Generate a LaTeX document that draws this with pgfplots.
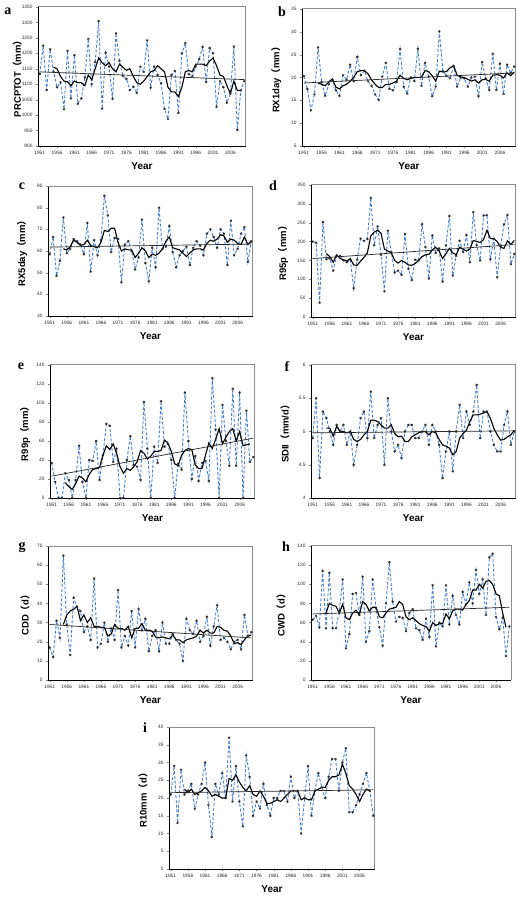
\documentclass[border=0pt]{standalone}
\usepackage{fontspec}
\setmainfont{Liberation Sans}
\newfontfamily\serifbf{Liberation Serif}
\newfontfamily\cjk{Noto Sans CJK SC}
\usepackage{pgfplots}
\usepackage{pgfplotstable}
\pgfplotsset{compat=1.18}
\definecolor{dblue}{RGB}{72,128,200}
\newcommand\lp{{\cjk （}}
\newcommand\rp{{\cjk ）}}

\pgfplotstableread{
year a b c d e f g h i
1951 1133 20.3 58.5 200 37 4.9 17 63 21
1952 1225 17.5 66.5 197 17 5.5 12 67 29
1953 1081 12.8 48.5 38 0 4.3 31 55 13
1954 1213 16.3 55.5 252 0 5.3 22 114 28
1955 1140 26.6 75.5 153 26 5.2 65 54 21
1956 1090 19.0 59 155 19 5.0 29 112 22
1957 1106 16.0 61 123 0 4.8 13 54 24
1958 1019 18.5 65.5 162 19 5.1 43 54 17
1959 1208 19.5 64.5 162 55 5.0 38 72 21
1960 1054 17.2 63 150 17 5.1 36 105 24
1961 1194 16.0 58.5 145 0 4.8 25 33 30
1962 1037 20.5 73 152 40 5.0 28 48 18
1963 1054 19.5 50.5 76 39 4.5 21 90 9
1964 1122 22.8 65 152 60 4.8 53 91 24
1965 1247 19.2 58 208 19 5.2 17 68 21
1966 1100 24.5 65 202 45 5.3 19 108 27
1967 1172 20.5 85.5 207 78 4.9 30 40 20
1968 1304 21.5 76.5 316 76 5.6 20 51 37
1969 1021 19.2 59.5 190 38 4.9 27 105 19
1970 1202 18.2 66 240 52 5.1 21 75 29
1971 1157 16.3 65.5 165 0 5.2 47 55 19
1972 1053 15.1 45.5 68 0 4.5 17 36 12
1973 1265 20.2 63 229 40 5.5 23 80 32
1974 1176 23.2 64.5 172 65 5.0 18 123 26
1975 1127 17.5 60 118 35 4.7 36 82 15
1976 1117 17.2 51.5 123 33 4.8 17 61 19
1977 1081 19.0 57 112 19 4.6 37 66 17
1978 1092 26.2 74.5 220 101 5.0 26 65 24
1979 1072 18.0 54.5 128 52 5.1 32 51 18
1980 1157 16.5 46 98 0 5.1 15 70 15
1981 1140 20.0 61.5 152 54 4.9 23 74 20
1982 1242 19.2 52.5 150 37 4.9 26 54 20
1983 1089 26.3 80 246 102 5.0 15 52 22
1984 1157 18.2 61 185 54 5.1 30 42 22
1985 1130 23.2 62 102 57 4.8 19 64 19
1986 1103 20.2 71.5 216 40 5.1 19 45 26
1987 1020 15.9 59.5 170 0 5.0 24 99 20
1988 987 18.0 52.5 182 36 4.8 21 35 22
1989 1130 30.1 58 94 30 4.3 19 60 10
1990 1143 21.4 60 190 111 4.7 10 56 20
1991 1007 20.4 62 268 60 5.0 32 99 29
1992 1200 19.8 53.5 110 20 4.4 26 58 15
1993 1233 22.5 61.5 162 44 5.0 24 88 22
1994 1133 18.0 64.5 202 18 5.4 31 68 27
1995 1125 20.0 62.5 172 37 4.9 20 58 23
1996 1157 19.8 58 217 39 5.3 23 92 20
1997 1181 18.0 68 145 18 5.1 33 79 26
1998 1221 20.0 70 278 126 5.3 18 102 31
1999 1107 20.2 66.5 190 72 5.7 28 80 31
2000 1217 15.9 61.5 150 0 4.9 39 115 22
2001 1200 23.4 70 269 98 5.3 21 90 30
2002 1027 19.8 68 270 60 5.3 22 105 34
2003 1110 17.2 53.5 153 34 5.0 20 68 16
2004 1090 25.2 74 207 115 4.8 16 128 16
2005 1040 17.3 58 105 34 4.7 20 132 18
2006 1070 23.0 61 188 111 4.7 21 66 21
2007 1222 16.4 68 246 0 5.1 16 53 24
2008 952 22.8 71 270 92 5.3 34 65 27
2009 1080 21.0 55 140 38 4.8 23 25 22
2010 1110 22.4 64.5 167 43 5.0 25 56 15
}\raw

\pgfplotstableread{
year a b c d e f g h i
1955 1155 18.8 61 168 16 5.05 29 70 22.5
1956 1150 18.5 60.5 160 12 5.05 34 80 21.5
1957 1125 18.2 62 145 9 4.93 36 78 22.5
1958 1110 19.0 65 165 15 5.08 37 77 21
1959 1108 19.7 64 155 23 5.0 38.5 70 21.5
1960 1095 17.9 62.5 152 21 5.0 31 79 22
1961 1110 17.5 63 148 17 4.98 34 65 23
1962 1105 18.2 65 155 25 5.0 30 63 22
1963 1105 18.5 62.5 138 30 4.88 32.5 70 20.5
1964 1095 19.2 62 137 31 4.85 28 73 21
1965 1130 20.0 61.5 148 32 4.88 28 68 20.5
1966 1115 21.3 64 158 45 4.95 27.5 82 20
1967 1150 21.5 69.5 170 55 5.0 27.5 79 20
1968 1185 21.5 69 215 51 5.17 23 72 25.5
1969 1170 20.8 70.5 225 57 5.17 24 76 25
1970 1160 19.5 70.5 230 47 5.15 29 76 26.5
1971 1170 18.5 64 222 33 5.1 27 66 24.5
1972 1150 17.8 60 180 26 5.05 27 65 23
1973 1140 17.8 61 175 31 5.05 26 70 22
1974 1165 18.5 60.5 170 29 5.1 28 74 23.5
1975 1155 18.5 60.5 150 33 4.97 22 75 21
1976 1145 18.8 57 143 38 4.92 27 76 20.5
1977 1150 19.2 59 150 50 4.93 27 82 22
1978 1125 20.5 61.5 145 47 4.85 29.5 79 20.5
1979 1105 19.8 60 138 41 4.85 26 66 18.5
1980 1100 19.5 57 137 44 4.92 26 63 18.5
1981 1110 19.8 58.5 142 49 4.95 25.5 65 19
1982 1125 20.0 58 150 49 4.98 22.5 62 19.5
1983 1140 20.0 59 160 50 5.0 22 59 19
1984 1145 20.1 61 165 61 5.0 22.5 57 20
1985 1160 21.5 64.5 166 58 4.95 22 56 21
1986 1150 21.3 66.5 178 49 5.0 21.5 51 22
1987 1140 20.4 61.5 185 36 4.98 23.5 60 22
1988 1090 19.2 61 175 34 4.88 21 57 22
1989 1075 21.4 60.5 155 45 4.8 21 59 19.5
1990 1075 21.2 59 168 50 4.78 19.5 59 20
1991 1060 21.3 57.5 182 52 4.75 21 69 19.5
1992 1090 22.1 59 170 51 4.65 21.5 64 19.5
1993 1140 22.6 60.5 165 35 4.7 22 72 22
1994 1145 20.5 61 185 31 4.9 23 74 22.5
1995 1140 20.1 61 180 31 4.97 26 74 23
1996 1165 20.0 60.5 175 45 5.02 24.5 73 23
1997 1165 19.6 63.5 180 58 5.15 26 79 25
1998 1165 19.2 65 203 52 5.25 24.5 83 26
1999 1160 19.5 64.5 200 62 5.25 24.5 94 26
2000 1175 18.8 65.5 198 73 5.26 28 94 26.5
2001 1185 19.5 67.5 205 57 5.28 27.5 100 29.5
2002 1160 19.6 67 230 64 5.3 26 96 27
2003 1130 19.2 64 208 70 5.2 25.5 103 23.5
2004 1125 20.5 65.5 208 73 5.05 23 104 22.5
2005 1095 20.6 65 200 60 4.95 19 100 21
2006 1070 20.5 63.5 185 70 4.87 19.5 90 19
2007 1110 19.9 63 182 55 4.88 18.5 88 21
2008 1080 21.0 66.5 202 56 4.92 21 70 22.5
2009 1080 20.4 63 192 57 4.95 23 55 22
2010 nan 21.2 64.5 203 nan 5.02 23.5 nan nan
}\ma

\pgfplotsset{
  panel/.style={
    scale only axis, anchor=south west,
    xmin=1950.5, xmax=2010.5,
    xtick={1951,1956,...,2006},
    /pgf/number format/1000 sep={},
    /pgf/number format/assume math mode=true,
    tick label style={font=\fontsize{4.8}{5}\selectfont, black!85},
    axis x line*=bottom, axis y line*=left,
    tick align=outside,
    major tick length=2pt,
    axis line style={black, line width=0.5pt},
    xlabel={Year},
    xlabel style={font=\fontsize{10}{10}\selectfont\bfseries, at={(axis description cs:0.5,0)}, anchor=center, yshift=-20pt},
    ylabel style={font=\fontsize{9.5}{10}\selectfont\bfseries, at={(axis description cs:#1,0.5)}, anchor=center},
    clip=false,
  },
  blueser/.style={dblue, line width=0.9pt, dash pattern=on 3pt off 1.8pt, mark=asterisk, mark size=1.3pt, mark options={solid, black!85, line width=0.45pt}},
  maser/.style={black, line width=1.1pt, no marks},
  trend/.style={black!85, line width=0.7pt, no marks},
}
\newcommand\frametr{\draw[black!45, line width=1pt] (rel axis cs:0,1) -- (rel axis cs:1,1) -- (rel axis cs:1,0);}
\newcommand\plet[3]{\node[font=\serifbf\bfseries\fontsize{14}{14}\selectfont] at (#1pt,#2pt) {#3};}

\begin{document}
\begin{tikzpicture}
\useasboundingbox (0,0) rectangle (518pt,898pt);
% a
\begin{axis}[panel=-0.10, at={(38pt,752pt)}, width=208pt, height=139pt,
  ymin=900, ymax=1350, ytick={900,950,...,1350}, ylabel={PRCPTOT\lp mm\rp}]
\frametr
\addplot[blueser] table[x=year,y=a]{\raw};
\addplot[maser] table[x=year,y=a]{\ma};
\addplot[trend] coordinates {(1951,1140) (2010,1115)};
\end{axis}
% b
\begin{axis}[panel=-0.12, at={(302pt,752pt)}, width=214pt, height=137pt,
  ymin=5, ymax=35, ytick={5,10,...,35}, ylabel={RX1day\lp mm\rp}]
\frametr
\addplot[blueser] table[x=year,y=b]{\raw};
\addplot[maser] table[x=year,y=b]{\ma};
\addplot[trend] coordinates {(1951,18.8) (2010,21.0)};
\end{axis}
% c
\begin{axis}[panel=-0.127, at={(48pt,582pt)}, width=205pt, height=130pt,
  ymin=30, ymax=90, ytick={30,40,...,90}, ylabel={RX5day\lp mm\rp}]
\frametr
\addplot[blueser] table[x=year,y=c]{\raw};
\addplot[maser] table[x=year,y=c]{\ma};
\addplot[trend] coordinates {(1951,61.8) (2010,63.2)};
\end{axis}
% d
\begin{axis}[panel=-0.136, at={(311pt,581pt)}, width=205pt, height=132pt,
  ymin=0, ymax=350, ytick={0,50,...,350}, ylabel={R95p\lp mm\rp}]
\frametr
\addplot[blueser] table[x=year,y=d]{\raw};
\addplot[maser] table[x=year,y=d]{\ma};
\addplot[trend] coordinates {(1951,155) (2010,192)};
\end{axis}
% e
\begin{axis}[panel=-0.122, at={(50pt,400pt)}, width=205pt, height=133pt,
  ymin=0, ymax=140, ytick={0,20,...,140}, ylabel={R99p\lp mm\rp}]
\frametr
\addplot[blueser] table[x=year,y=e]{\raw};
\addplot[maser] table[x=year,y=e]{\ma};
\addplot[trend] coordinates {(1951,23) (2010,63)};
\end{axis}
% f
\begin{axis}[panel=-0.127, at={(311pt,400pt)}, width=205pt, height=133pt,
  ymin=4, ymax=6, ytick={4,4.5,...,6}, ylabel={SDII\lp mm/d\rp}]
\frametr
\addplot[blueser] table[x=year,y=f]{\raw};
\addplot[maser] table[x=year,y=f]{\ma};
\addplot[trend] coordinates {(1951,4.98) (2010,5.01)};
\end{axis}
% g
\begin{axis}[panel=-0.112, at={(48pt,218pt)}, width=205pt, height=134pt,
  ymin=0, ymax=70, ytick={0,10,...,70}, ylabel={CDD\lp d\rp}]
\frametr
\addplot[blueser] table[x=year,y=g]{\raw};
\addplot[maser] table[x=year,y=g]{\ma};
\addplot[trend] coordinates {(1951,29) (2010,22)};
\end{axis}
% h
\begin{axis}[panel=-0.15, at={(311pt,218pt)}, width=200pt, height=134pt,
  ymin=0, ymax=140, ytick={0,20,...,140}, ylabel={CWD\lp d\rp}]
\frametr
\addplot[blueser] table[x=year,y=h]{\raw};
\addplot[maser] table[x=year,y=h]{\ma};
\addplot[trend] coordinates {(1951,69) (2010,76)};
\end{axis}
% i
\begin{axis}[panel=-0.126, at={(169pt,29pt)}, width=206pt, height=142pt,
  ymin=0, ymax=40, ytick={0,5,...,40}, ylabel={R10mm\lp d\rp}]
\frametr
\addplot[blueser] table[x=year,y=i]{\raw};
\addplot[maser] table[x=year,y=i]{\ma};
\addplot[trend] coordinates {(1951,21.5) (2010,22.3)};
\end{axis}
\plet{8}{887}{a}
\plet{282}{886}{b}
\plet{22}{712}{c}
\plet{273}{712}{d}
\plet{21}{532}{e}
\plet{287}{531}{f}
\plet{22}{351}{g}
\plet{286}{351}{h}
\plet{145}{170}{i}
\end{tikzpicture}
\end{document}
